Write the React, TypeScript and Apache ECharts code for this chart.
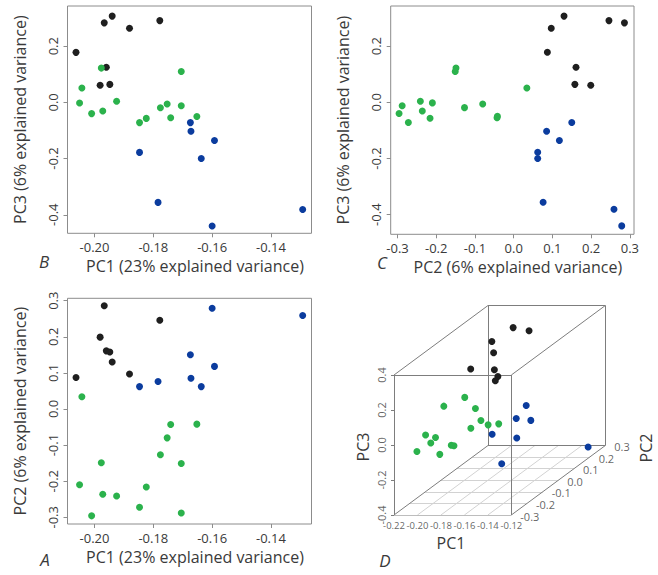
import React, { useEffect, useRef } from "react";
import * as echarts from "echarts";

// ---- data (PC scores per group) ----
const blackPC1 = [-0.2063, -0.1967, -0.1981, -0.196, -0.1948, -0.194, -0.1881, -0.1778];
const blackPC2 = [0.087, 0.286, 0.199, 0.161, 0.158, 0.13, 0.097, 0.246];
const blackPC3 = [0.178, 0.283, 0.061, 0.125, 0.064, 0.307, 0.264, 0.291];

const greenPC1 = [-0.2043, -0.2051, -0.201, -0.1977, -0.1972, -0.1925, -0.1847, -0.1824, -0.1776, -0.1753, -0.1741, -0.1705, -0.1705, -0.1652];
const greenPC2 = [0.034, -0.21, -0.296, -0.149, -0.236, -0.241, -0.272, -0.216, -0.127, -0.08, -0.043, -0.151, -0.288, -0.042];
const greenPC3 = [0.051, -0.002, -0.04, 0.122, -0.031, 0.004, -0.072, -0.057, -0.019, -0.006, -0.055, 0.11, -0.012, -0.05];

const bluePC1 = [-0.1847, -0.1784, -0.1674, -0.1672, -0.1637, -0.1592, -0.16, -0.1292];
const bluePC2 = [0.062, 0.076, 0.15, 0.085, 0.062, 0.118, 0.279, 0.259];
const bluePC3 = [-0.178, -0.356, -0.072, -0.103, -0.2, -0.136, -0.44, -0.381];

// ---- tick labels ----
const pc1Ticks = [-0.2, -0.18, -0.16, -0.14];
const pc2Ticks = [-0.3, -0.2, -0.1, 0.0, 0.1, 0.2, 0.3];
const pc3Ticks = [-0.4, -0.2, 0.0, 0.2];
const d1Ticks = [-0.22, -0.2, -0.18, -0.16, -0.14, -0.12];
const d2Ticks = [-0.3, -0.2, -0.1, 0.0, 0.1, 0.2, 0.3];
const d3Ticks = [-0.4, -0.2, 0.0, 0.2, 0.4];

const titlePC1 = "PC1 (23% explained variance)";
const titlePC2 = "PC2 (6% explained variance)";
const titlePC3 = "PC3 (6% explained variance)";

const BLACK = "#1f1f1f";
const GREEN = "#2bb24c";
const BLUE = "#0b3c9e";
const FONT = "'Open Sans', 'Noto Sans', sans-serif";
const TXT = "#3a3a3a";
const FRAME = "#8c8c8c";
const SYM = 7;

type G = { c: string; a: number[]; b: number[]; d: number[] };
const groups: G[] = [
  { c: BLACK, a: blackPC1, b: blackPC2, d: blackPC3 },
  { c: GREEN, a: greenPC1, b: greenPC2, d: greenPC3 },
  { c: BLUE, a: bluePC1, b: bluePC2, d: bluePC3 },
];

function xAx(gi: number, min: number, max: number, ticks: number[], dec: number, name: string) {
  return {
    type: "value", gridIndex: gi, min, max,
    axisLine: { show: false, onZero: false },
    splitLine: { show: false },
    axisTick: { show: true, customValues: ticks, length: 4, lineStyle: { color: FRAME } },
    axisLabel: { customValues: ticks, formatter: (v: number) => v.toFixed(dec), fontSize: 13, color: TXT, fontFamily: FONT, margin: 7 },
    name, nameLocation: "middle", nameGap: 25,
    nameTextStyle: { fontSize: 16, color: TXT, fontFamily: FONT, padding: [0, 0, 0, 11] },
  };
}
function yAx(gi: number, min: number, max: number, ticks: number[], dec: number, name: string) {
  return {
    type: "value", gridIndex: gi, min, max,
    axisLine: { show: false, onZero: false },
    splitLine: { show: false },
    axisTick: { show: true, customValues: ticks, length: 4, lineStyle: { color: FRAME } },
    axisLabel: { customValues: ticks, formatter: (v: number) => v.toFixed(dec), fontSize: 13, color: TXT, fontFamily: FONT, margin: 8, rotate: 90 },
    name, nameLocation: "middle", nameGap: 40, nameRotate: 90,
    nameTextStyle: { fontSize: 16, color: TXT, fontFamily: FONT },
  };
}

// ---- 3D projection for panel D ----
const R1 = [-0.22, -0.12], R2 = [-0.3, 0.3], R3 = [-0.4, 0.4];
const FW = 117.33, FH = 140, DX = 94, DY = 69.5;
function uvw(a: number, b: number, c: number) {
  return [(a - R1[0]) / (R1[1] - R1[0]), (b - R2[0]) / (R2[1] - R2[0]), (c - R3[0]) / (R3[1] - R3[0])];
}
function pr(u: number, v: number, w: number) {
  return [u * FW + v * DX, w * FH + v * DY];
}
function prData(a: number, b: number, c: number) {
  const [u, v, w] = uvw(a, b, c);
  return pr(u, v, w);
}

export default function App() {
  const ref = useRef<HTMLDivElement>(null);
  useEffect(() => {
    document.body.style.margin = "0";
    const chart = echarts.init(ref.current!, undefined, { renderer: "svg" });

    const grids = [
      { left: 67.5, top: 6, width: 244, height: 227.3 },      // B
      { left: 390.7, top: 6, width: 243.3, height: 228.3 },   // C
      { left: 67.5, top: 298.3, width: 244, height: 225.7 },  // A
    ].map((g) => ({ ...g, show: true, borderColor: FRAME, borderWidth: 1, backgroundColor: "transparent" }));
    const gridD = { left: 394, top: 515 - (FH + DY), width: FW + DX, height: FH + DY, show: false };

    const xAxes: any[] = [
      xAx(0, -0.2092, -0.1262, pc1Ticks, 2, titlePC1),
      xAx(1, -0.3176, 0.3107, pc2Ticks, 1, titlePC2),
      xAx(2, -0.2092, -0.1262, pc1Ticks, 2, titlePC1),
      { type: "value", gridIndex: 3, min: 0, max: FW + DX, show: false },
    ];
    const yAxes: any[] = [
      yAx(0, -0.466, 0.343, pc3Ticks, 1, titlePC3),
      yAx(1, -0.47, 0.343, pc3Ticks, 1, titlePC3),
      yAx(2, -0.3186, 0.3066, pc2Ticks, 1, titlePC2),
      { type: "value", gridIndex: 3, min: 0, max: FH + DY, show: false },
    ];

    const series: any[] = [];
    groups.forEach((g) => {
      series.push({ type: "scatter", xAxisIndex: 0, yAxisIndex: 0, symbolSize: SYM, itemStyle: { color: g.c, opacity: 1 }, data: g.a.map((v, i) => [v, g.d[i]]), silent: true });
      series.push({ type: "scatter", xAxisIndex: 1, yAxisIndex: 1, symbolSize: SYM, itemStyle: { color: g.c, opacity: 1 }, data: g.b.map((v, i) => [v, g.d[i]]), silent: true });
      series.push({ type: "scatter", xAxisIndex: 2, yAxisIndex: 2, symbolSize: SYM, itemStyle: { color: g.c, opacity: 1 }, data: g.a.map((v, i) => [v, g.b[i]]), silent: true });
    });

    // Panel D: floor grid
    const floor: any[] = [];
    d1Ticks.slice(1, -1).forEach((t) => {
      const u = (t - R1[0]) / (R1[1] - R1[0]);
      floor.push({ coords: [pr(u, 0, 0), pr(u, 1, 0)] });
    });
    d2Ticks.slice(1, -1).forEach((t) => {
      const v = (t - R2[0]) / (R2[1] - R2[0]);
      floor.push({ coords: [pr(0, v, 0), pr(1, v, 0)] });
    });
    series.push({ type: "lines", coordinateSystem: "cartesian2d", xAxisIndex: 3, yAxisIndex: 3, silent: true, z: 1, lineStyle: { color: "#d2d2d2", width: 1, opacity: 1 }, data: floor });

    // Panel D: box edges
    const edges: any[] = [];
    for (let a = 0; a < 8; a++) {
      for (let b = a + 1; b < 8; b++) {
        const diff = a ^ b;
        if (diff === 1 || diff === 2 || diff === 4) {
          const ca = [a & 1, (a >> 1) & 1, (a >> 2) & 1];
          const cb = [b & 1, (b >> 1) & 1, (b >> 2) & 1];
          edges.push({ coords: [pr(ca[0], ca[1], ca[2]), pr(cb[0], cb[1], cb[2])] });
        }
      }
    }
    series.push({ type: "lines", coordinateSystem: "cartesian2d", xAxisIndex: 3, yAxisIndex: 3, silent: true, z: 2, lineStyle: { color: "#7d7d7d", width: 1, opacity: 1 }, data: edges });

    // Panel D: PC3 ticks
    const tk: any[] = d3Ticks.map((t) => {
      const p = prData(R1[0], R2[0], t);
      return { coords: [p, [p[0] - 3, p[1]]] };
    });
    series.push({ type: "lines", coordinateSystem: "cartesian2d", xAxisIndex: 3, yAxisIndex: 3, silent: true, z: 2, clip: false, lineStyle: { color: "#7d7d7d", width: 1, opacity: 1 }, data: tk });

    // Panel D: points (clipped to the box)
    groups.forEach((g) => {
      const pts: number[][] = [];
      g.a.forEach((v, i) => {
        const [u, vv, w] = uvw(v, g.b[i], g.d[i]);
        if (u >= 0 && u <= 1 && vv >= 0 && vv <= 1 && w >= 0 && w <= 1) pts.push(pr(u, vv, w));
      });
      series.push({ type: "scatter", xAxisIndex: 3, yAxisIndex: 3, symbolSize: SYM, z: 3, clip: false, itemStyle: { color: g.c, opacity: 1 }, data: pts, silent: true });
    });

    // Panel D: tick labels
    const lbl = (data: any[], extra: any) => ({
      type: "scatter", xAxisIndex: 3, yAxisIndex: 3, symbolSize: 1, silent: true, z: 4, clip: false,
      itemStyle: { color: "rgba(0,0,0,0)" },
      label: { show: true, position: "inside", formatter: "{b}", color: TXT, fontFamily: FONT, ...extra },
      labelLayout: { hideOverlap: false },
      data,
    });
    series.push(lbl(d1Ticks.map((t) => { const p = prData(t, R2[0], R3[0]); return { name: t.toFixed(2), value: [p[0], p[1] - 10] }; }), { fontSize: 9.5 }));
    series.push(lbl(d3Ticks.map((t) => { const p = prData(R1[0], R2[0], t); return { name: t.toFixed(1), value: [p[0] - 12.5, p[1]] }; }), { fontSize: 11, rotate: 90 }));
    series.push(lbl(d2Ticks.map((t) => { const p = prData(R1[1], t, R3[0]); return { name: t.toFixed(1), value: [p[0] + 9, p[1] - 1] }; }), { fontSize: 11, align: "left" }));

    const txt = (x: number, y: number, text: string, extra: any = {}, rot = 0) => ({
      type: "text", x, y, rotation: rot,
      style: { text, fill: TXT, font: `${extra.italic ? "italic " : ""}${extra.size || 16}px ${FONT}`, textAlign: "center", textVerticalAlign: "middle" },
    });

    chart.setOption({
      animation: false,
      grid: [...grids, gridD],
      xAxis: xAxes,
      yAxis: yAxes,
      series,
      graphic: [
        txt(44, 261, "B", { italic: true, size: 17 }),
        txt(382, 262, "C", { italic: true, size: 17 }),
        txt(45, 559, "A", { italic: true, size: 17 }),
        txt(385, 560, "D", { italic: true, size: 17 }),
        txt(451, 543, "PC1"),
        txt(363, 447, "PC3", {}, Math.PI / 2),
        txt(646, 448, "PC2", {}, Math.PI / 2),
      ],
    });
    return () => chart.dispose();
  }, []);
  return <div ref={ref} style={{ width: 658, height: 575 }} />;
}
